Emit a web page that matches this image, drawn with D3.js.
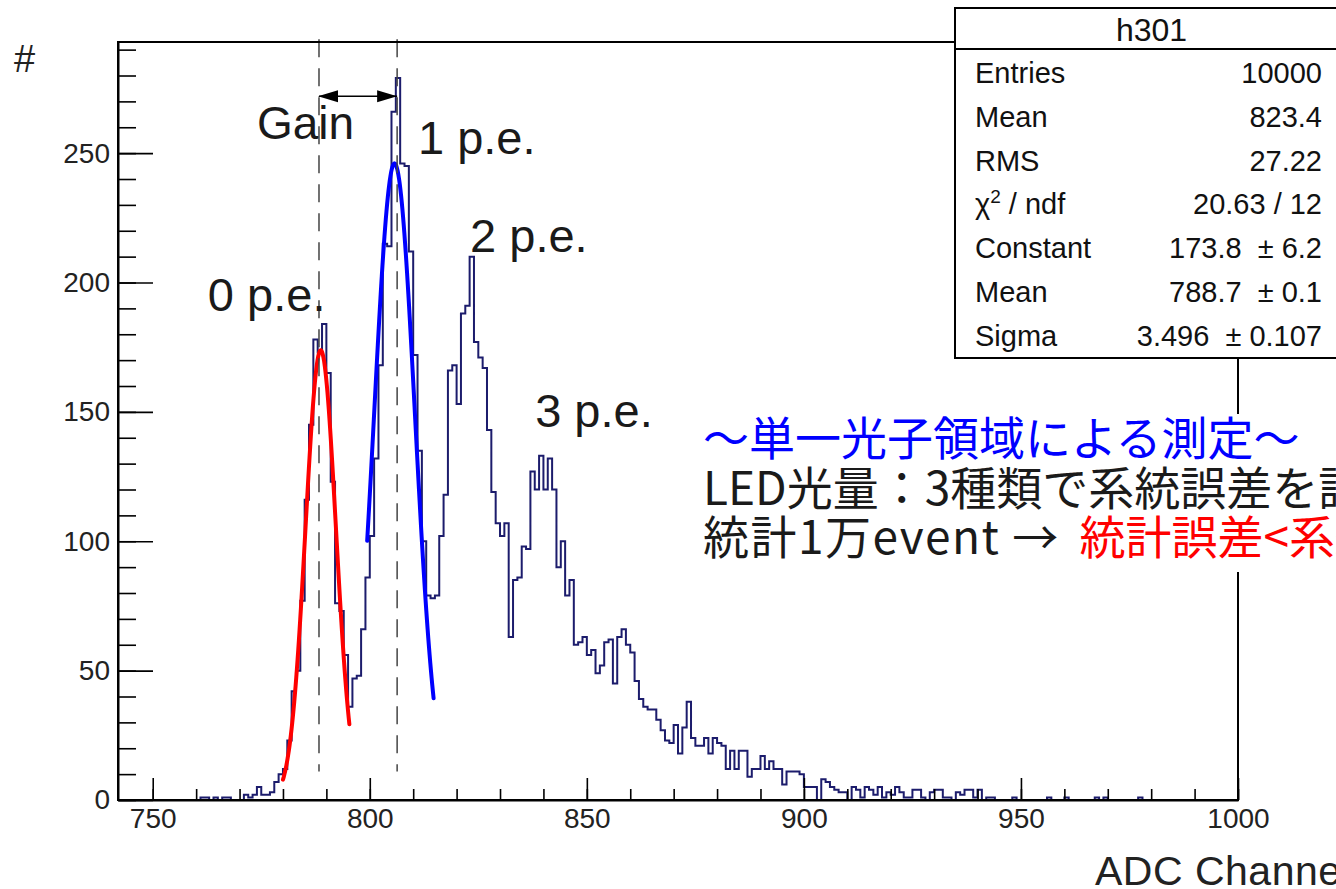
<!DOCTYPE html>
<html>
<head>
<meta charset="utf-8">
<script src="https://cdn.jsdelivr.net/npm/d3@7"></script>
<style>
  body { margin: 0; background: #fff; }
  svg { display: block; }
  text { font-family: "Liberation Sans", Arial, Helvetica, sans-serif; }
</style>
</head>
<body>
<svg id="chart" width="1336" height="889"></svg>
<script>
// ADC spectrum, one bin per channel starting at 742
const binStart = 742, binWidth = 1;
const counts = [
  0,0,0,0,0,0,0,0,0,0,0,0,0,0,0,0,0,0,          // 742-759
  0,1,1,0,1,0,1,1,0,0,                          // 760
  0,2,1,2,5,2,2,3,7,10,                         // 770
  12,23,42,50,77,116,145,178,173,184,           // 780
  165,123,76,73,56,36,47,48,66,86,              // 790
  102,132,168,215,214,266,279,246,245,212,      // 800
  172,135,100,79,78,79,102,118,166,168,         // 810
  153,188,191,210,177,171,167,143,119,107,      // 820
  102,107,63,85,86,98,97,127,120,133,           // 830
  120,132,120,90,100,79,85,60,61,63,            // 840
  56,58,49,52,61,62,45,63,66,60,                // 850
  57,46,39,36,35,35,31,27,23,22,                // 860
  29,18,28,38,24,21,21,24,18,24,                // 870
  22,21,12,19,12,19,19,9,12,12,                 // 880
  17,12,15,12,12,6,11,11,11,10,                 // 890
  5,5,5,0,8,7,5,4,3,3,                          // 900
  0,5,4,1,5,4,2,5,1,3,                          // 910
  2,5,3,1,1,4,4,1,0,3,                          // 920
  4,4,1,1,0,3,2,4,4,1,                          // 930
  4,0,1,1,0,0,0,0,1,0,                          // 940
  0,0,0,0,0,0,1,0,0,0,                          // 950
  1,0,0,0,0,0,0,1,0,1,                          // 960
  0,0,0,0,0,0,0,1,0,0,                          // 970
  0,0,0,0,0,0,0,0,0,0,                          // 980
  0,0,0,0,0,0,0,0,0,0                           // 990
];

const xTicks = [750, 800, 850, 900, 950, 1000];
const yTicks = [0, 50, 100, 150, 200, 250];

// gaussian fits: [constant, mean, sigma] and fit range
const fit0Params = [173.8, 788.7, 3.496];
const fit0Range = [780, 795.3];
const fit1Params = [246, 805.7, 4.7];
const fit1Range = [799.4, 814.7];

const peLabels = ['0 p.e.', '1 p.e.', '2 p.e.', '3 p.e.'];
const peakLines = [788.3, 806.3];   // dashed lines at 0 and 1 p.e. peaks

const statsTitle = 'h301';
const statsLabels = ['Entries', 'Mean', 'RMS', 'chi2', 'Constant', 'Mean', 'Sigma'];
const statsValues = ['10000', '823.4', '27.22', '20.63 / 12', '173.8 \u00b1 6.2', '788.7 \u00b1 0.1', '3.496 \u00b1 0.107'];

const noteLines = ['\uff5e\u5358\u4e00\u5149\u5b50\u9818\u57df\u306b\u3088\u308b\u6e2c\u5b9a\uff5e',
                   'LED\u5149\u91cf\uff1a3\u7a2e\u985e\u3067\u7cfb\u7d71\u8aa4\u5dee\u3092\u8a55\u4fa1'];
const noteLast = ['\u7d71\u8a081\u4e07event \u2192 ', '\u7d71\u8a08\u8aa4\u5dee<\u7cfb\u7d71\u8aa4\u5dee'];

// ---------------------------------------------------------------
const svg = d3.select('#chart');
const frame = {left: 118, right: 1238, top: 42, bottom: 800};

const xMax = binStart + counts.length * binWidth;
const yMax = 1.05 * d3.max(counts);

const x = d3.scaleLinear().domain([binStart, xMax]).range([frame.left, frame.right]);
const y = d3.scaleLinear().domain([0, yMax]).range([frame.bottom, frame.top]);

svg.append('rect').attr('width', 1336).attr('height', 889).attr('fill', '#fff');

// histogram outline
let pts = [[binStart, 0]];
counts.forEach((c, i) => {
  let lo = binStart + i * binWidth;
  pts.push([lo, c], [lo + binWidth, c]);
});
pts.push([xMax, 0]);

svg.append('path')
  .attr('d', d3.line().x(d => x(d[0])).y(d => y(d[1]))(pts))
  .attr('fill', 'none')
  .attr('stroke', '#1c1c6c')
  .attr('stroke-width', 2)
  .attr('stroke-linejoin', 'miter');

// fit curves
function gaus(p, range) {
  return d3.range(0, 101).map(k => {
    let v = range[0] + (range[1] - range[0]) * k / 100;
    return [v, p[0] * Math.exp(-0.5 * Math.pow((v - p[1]) / p[2], 2))];
  });
}
const fitLine = d3.line().x(d => x(d[0])).y(d => y(d[1]));
svg.append('path').attr('d', fitLine(gaus(fit0Params, fit0Range)))
  .attr('fill', 'none').attr('stroke', '#ff0000').attr('stroke-width', 4).attr('stroke-linecap', 'round');
svg.append('path').attr('d', fitLine(gaus(fit1Params, fit1Range)))
  .attr('fill', 'none').attr('stroke', '#0000ff').attr('stroke-width', 4).attr('stroke-linecap', 'round');

// dashed peak markers
svg.selectAll('line.peak')
  .data(peakLines)
  .enter().append('line')
  .attr('class', 'peak')
  .attr('x1', d => x(d)).attr('x2', d => x(d))
  .attr('y1', y(294)).attr('y2', y(11))
  .attr('stroke', '#444').attr('stroke-width', 1.5)
  .attr('stroke-dasharray', '18,11');

// frame
svg.append('rect')
  .attr('x', frame.left).attr('y', frame.top)
  .attr('width', frame.right - frame.left).attr('height', frame.bottom - frame.top)
  .attr('fill', 'none').attr('stroke', '#000').attr('stroke-width', 2);

// X axis: minor then major
svg.append('g')
  .attr('transform', `translate(0, ${frame.bottom})`)
  .call(d3.axisBottom(x).tickValues(d3.range(750, 1001, 10)).tickSizeInner(-11).tickSizeOuter(0).tickFormat(''))
  .call(g => g.select('.domain').remove());
const xAxis = svg.append('g')
  .attr('transform', `translate(0, ${frame.bottom})`)
  .call(d3.axisBottom(x).tickValues(xTicks).tickSizeInner(-22).tickSizeOuter(0).tickPadding(8).tickFormat(d3.format('d')));
xAxis.select('.domain').attr('stroke-width', 2);

// Y axis
svg.append('g')
  .attr('transform', `translate(${frame.left}, 0)`)
  .call(d3.axisLeft(y).tickValues(d3.range(0, yMax, 10)).tickSizeInner(-18).tickSizeOuter(0).tickFormat(''))
  .call(g => g.select('.domain').remove());
const yAxis = svg.append('g')
  .attr('transform', `translate(${frame.left}, 0)`)
  .call(d3.axisLeft(y).tickValues(yTicks).tickSizeInner(-35).tickSizeOuter(0).tickPadding(8));
yAxis.select('.domain').attr('stroke-width', 2);

svg.selectAll('.tick line').attr('stroke', '#000').attr('stroke-width', 1.6);
svg.selectAll('.tick text')
  .attr('fill', '#222')
  .style('font-size', '28px')
  .style('font-family', '"Liberation Sans", Arial, sans-serif');

// axis titles
svg.append('text').attr('x', 14).attr('y', 72).style('font-size', '38px').attr('fill', '#222').text('#');
svg.append('text').attr('x', 1095).attr('y', 885).style('font-size', '41px')
  .style('letter-spacing', '0.5px').attr('fill', '#222').text('ADC Channel');

// Gain arrow
const defs = svg.append('defs');
['start', 'end'].forEach(k => {
  defs.append('marker')
    .attr('id', 'arr-' + k)
    .attr('markerUnits', 'userSpaceOnUse')
    .attr('markerWidth', 22).attr('markerHeight', 14)
    .attr('refX', k === 'end' ? 20 : 1).attr('refY', 7)
    .attr('orient', 'auto')
    .append('path')
    .attr('d', k === 'end' ? 'M0,1 L20,7 L0,13 Z' : 'M20,1 L0,7 L20,13 Z')
    .attr('fill', '#000');
});
svg.append('line')
  .attr('x1', x(peakLines[0])).attr('x2', x(peakLines[1]))
  .attr('y1', y(272)).attr('y2', y(272))
  .attr('stroke', '#000').attr('stroke-width', 1.5)
  .attr('marker-start', 'url(#arr-start)').attr('marker-end', 'url(#arr-end)');

// peak labels
const labelPos = [[762.7, 189], [811.1, 249.6], [823.1, 211.7], [838.1, 144]];
svg.append('text').attr('x', x(774)).attr('y', y(255.4))
  .style('font-size', '46px').attr('fill', '#1a1a1a').text('Gain');
svg.selectAll('text.pe')
  .data(peLabels)
  .enter().append('text')
  .attr('class', 'pe')
  .attr('x', (d, i) => x(labelPos[i][0]))
  .attr('y', (d, i) => y(labelPos[i][1]))
  .style('font-size', '47px').attr('fill', '#1a1a1a')
  .text(d => d);

// stats box
const box = svg.append('g');
box.append('rect').attr('x', 955).attr('y', 8).attr('width', 393).attr('height', 350)
  .attr('fill', '#fff').attr('stroke', '#000').attr('stroke-width', 2);
box.append('line').attr('x1', 955).attr('x2', 1348).attr('y1', 49).attr('y2', 49)
  .attr('stroke', '#000').attr('stroke-width', 2);
box.append('text').attr('x', 1151.5).attr('y', 41).attr('text-anchor', 'middle')
  .style('font-size', '32px').attr('fill', '#111').text(statsTitle);
statsLabels.forEach((lab, i) => {
  let yy = 83 + i * 43.8;
  let t = box.append('text').attr('x', 975).attr('y', yy).style('font-size', '29px').attr('fill', '#111');
  if (lab === 'chi2') {
    t.append('tspan').text('\u03c7');
    t.append('tspan').attr('dy', -11).style('font-size', '19px').text('2');
    t.append('tspan').attr('dy', 11).text(' / ndf');
  } else {
    t.text(lab);
  }
  box.append('text').attr('x', 1322).attr('y', yy).attr('text-anchor', 'end')
    .style('font-size', '29px').style('white-space', 'pre').attr('fill', '#111')
    .text(statsValues[i].replace(' \u00b1 ', '  \u00b1 '));
});

// note block
const jp = '"Noto Sans CJK JP", sans-serif';
const note = svg.append('g');
note.append('rect').attr('x', 700).attr('y', 414).attr('width', 640).attr('height', 158).attr('fill', '#fff');
note.append('text').attr('x', 703).attr('y', 455).style('font-size', '46px')
  .style('font-family', jp).attr('fill', '#0000ff').text(noteLines[0]);
note.append('text').attr('x', 703).attr('y', 505).style('font-size', '46px')
  .style('font-family', jp).attr('fill', '#1a1a1a').text(noteLines[1]);
let last = note.append('text').attr('x', 703).attr('y', 554).style('font-size', '46px')
  .style('font-family', jp).style('white-space', 'pre');
last.append('tspan').attr('fill', '#1a1a1a').style('letter-spacing', '1.5px').text(noteLast[0]);
last.append('tspan').attr('fill', '#ff0000').attr('dx', 8).text(noteLast[1]);
</script>
</body>
</html>
